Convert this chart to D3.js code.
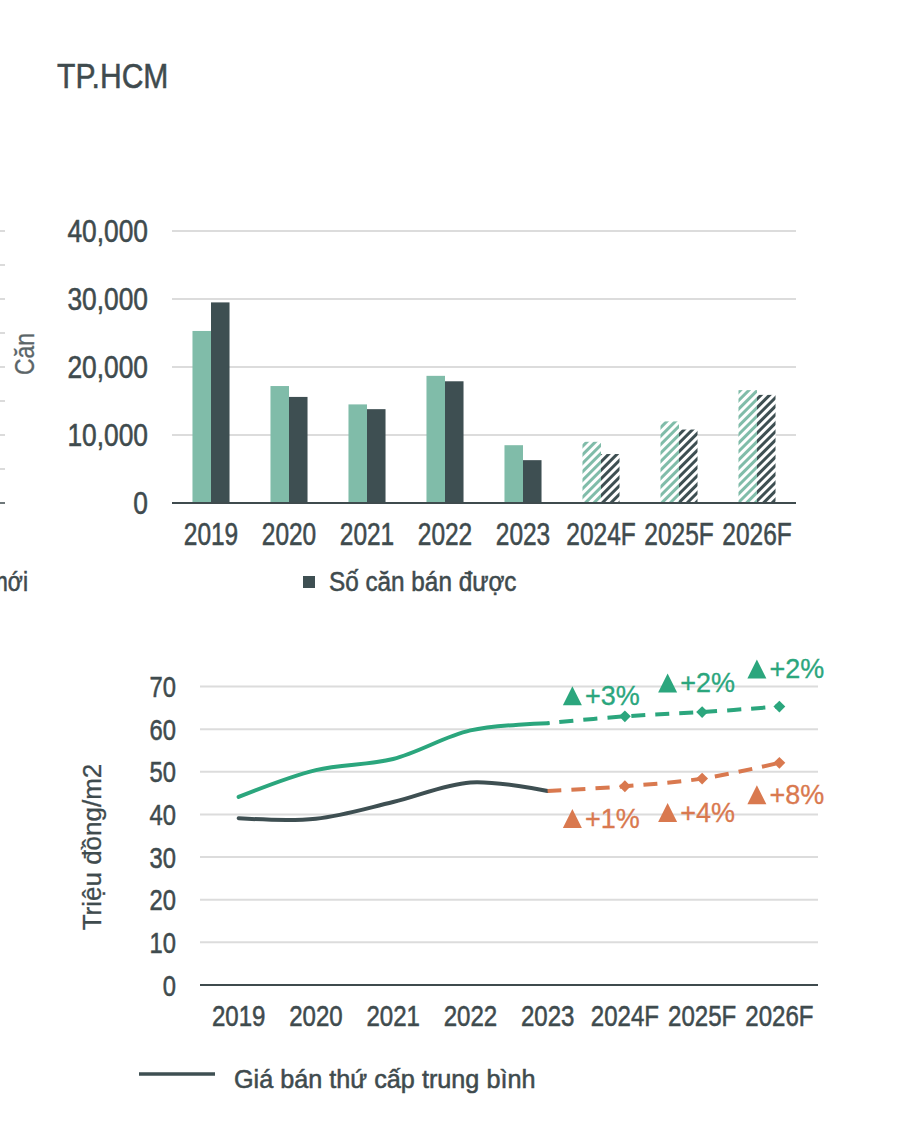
<!DOCTYPE html>
<html>
<head>
<meta charset="utf-8">
<script src="https://cdn.jsdelivr.net/npm/d3@7"></script>
<style>
  html, body { margin: 0; padding: 0; background: #ffffff; }
  svg { display: block; }
</style>
</head>
<body>
<div id="chart"></div>
<script>
// ---------------- DATA ----------------
const categories = ["2019", "2020", "2021", "2022", "2023", "2024F", "2025F", "2026F"];
const newSupply  = [25300, 17200, 14500, 18700, 8500, 9000, 12000, 16600];
const unitsSold  = [29500, 15600, 13800, 17900, 6300, 7200, 10800, 15900];
const barTicks   = [0, 10000, 20000, 30000, 40000];

const primaryPrice   = [44.1, 50.4, 53.0, 59.7, 61.4, 63.0, 64.0, 65.3];
const secondaryPrice = [39.1, 39.0, 42.9, 47.5, 45.5, 46.6, 48.4, 52.1];
const lineTicks      = [0, 10, 20, 30, 40, 50, 60, 70];

const primaryGrowth      = ["+3%", "+2%", "+2%"];
const primaryGrowthAt    = [65.6, 68.6, 71.9];
const secondaryGrowth    = ["+1%", "+4%", "+8%"];
const secondaryGrowthAt  = [36.8, 38.2, 42.4];
const forecastCategories = ["2024F", "2025F", "2026F"];

const titleText    = "TP.HCM";
const barAxisName  = "Căn";
const barLegend    = "Số căn bán được";
const cutLegend    = "mới";
const lineAxisName = "Triệu đồng/m2";
const lineLegend   = "Giá bán thứ cấp trung bình";

// ---------------- STYLE ----------------
const W = 910, H = 1132;
const FONT = "'Liberation Sans', Arial, sans-serif";
const TEXT = "#3f4b4e";
const LIGHT = "#80bca9";
const DARK = "#3e4f52";
const GREEN = "#2ba67d";
const ORANGE = "#d9794f";
const GRID = "#dcdcdc";

const svg = d3.select("#chart").append("svg")
  .attr("width", W).attr("height", H)
  .attr("viewBox", `0 0 ${W} ${H}`);
svg.append("rect").attr("width", W).attr("height", H).attr("fill", "#fff");

// condensed-looking text: Liberation Sans squeezed horizontally, slightly heavier
function ntext(sel, size, anchor, fill) {
  const f = fill || TEXT;
  return sel.attr("font-family", FONT).attr("font-size", size)
    .attr("text-anchor", anchor || "start").attr("fill", f)
    .attr("stroke", f).attr("stroke-width", 0.55);
}
const place = (x, y, sx, rot) => `translate(${x},${y})${rot ? " rotate(" + rot + ")" : ""} scale(${sx},1)`;

const defs = svg.append("defs");
function hatch(id, color) {
  const p = defs.append("pattern").attr("id", id)
    .attr("patternUnits", "userSpaceOnUse")
    .attr("width", 6).attr("height", 6)
    .attr("patternTransform", "rotate(45)");
  p.append("rect").attr("width", 6).attr("height", 6).attr("fill", "#fff");
  p.append("rect").attr("x", 0).attr("width", 3).attr("height", 6).attr("fill", color);
}
hatch("hatchLight", LIGHT);
hatch("hatchDark", DARK);

// Title
ntext(svg.append("text"), 35).attr("transform", place(57, 88, 0.86)).text(titleText);

// Cropped neighbour axis ticks at left edge
const leftTickScale = d3.scaleLinear().domain([0, 8]).range([503, 231]);
d3.range(0, 9).forEach(i => {
  svg.append("line").attr("x1", 0).attr("x2", 5)
    .attr("y1", leftTickScale(i)).attr("y2", leftTickScale(i))
    .attr("stroke", i === 0 ? TEXT : "#cfcfcf").attr("stroke-width", 1.5);
});
ntext(svg.append("text"), 27, "end").attr("transform", place(28, 591, 0.85)).text(cutLegend);

// ---------------- BAR CHART ----------------
const bx = d3.scaleBand().domain(categories).range([172, 796])
  .paddingInner(0.525).paddingOuter(0.2625);
const by = d3.scaleLinear().domain([0, 40000]).range([503, 231]);
const sub = d3.scaleBand().domain(["a", "b"]).range([0, bx.bandwidth()]);

const bg = svg.append("g");
bg.selectAll("line.grid").data(barTicks.filter(t => t > 0)).join("line")
  .attr("x1", 172).attr("x2", 796)
  .attr("y1", d => by(d)).attr("y2", d => by(d))
  .attr("stroke", GRID).attr("stroke-width", 2);

const isF = c => forecastCategories.includes(c);
bg.selectAll("rect.s1").data(categories).join("rect")
  .attr("x", c => bx(c) + sub("a"))
  .attr("width", sub.bandwidth())
  .attr("y", (c, i) => by(newSupply[i]))
  .attr("height", (c, i) => by(0) - by(newSupply[i]))
  .attr("fill", c => isF(c) ? "url(#hatchLight)" : LIGHT);
bg.selectAll("rect.s2").data(categories).join("rect")
  .attr("x", c => bx(c) + sub("b"))
  .attr("width", sub.bandwidth())
  .attr("y", (c, i) => by(unitsSold[i]))
  .attr("height", (c, i) => by(0) - by(unitsSold[i]))
  .attr("fill", c => isF(c) ? "url(#hatchDark)" : DARK);

bg.append("line").attr("x1", 172).attr("x2", 796).attr("y1", by(0)).attr("y2", by(0))
  .attr("stroke", TEXT).attr("stroke-width", 2);

const fmt = d3.format(",");
ntext(bg.selectAll("text.yt").data(barTicks).join("text"), 31, "end")
  .attr("transform", d => place(148, by(d) + 11, 0.85))
  .text(d => fmt(d));
ntext(bg.selectAll("text.xt").data(categories).join("text"), 31, "middle")
  .attr("transform", c => place(bx(c) + bx.bandwidth() / 2, 545, 0.79))
  .text(c => c);
ntext(svg.append("text"), 27, "middle", "#5b6568")
  .attr("stroke-width", 0.3)
  .attr("transform", place(34, 354, 0.85, -90))
  .text(barAxisName);

// bar legend
svg.append("rect").attr("x", 303).attr("y", 576).attr("width", 12).attr("height", 12).attr("fill", DARK);
ntext(svg.append("text"), 27).attr("transform", place(329, 591, 0.9)).text(barLegend);

// ---------------- LINE CHART ----------------
const lx = d3.scalePoint().domain(categories).range([200, 818]).padding(0.5);
const ly = d3.scaleLinear().domain([0, 70]).range([985, 686.5]);

const lg = svg.append("g");
lg.selectAll("line.grid").data(lineTicks.filter(t => t > 0)).join("line")
  .attr("x1", 200).attr("x2", 818)
  .attr("y1", d => ly(d)).attr("y2", d => ly(d))
  .attr("stroke", GRID).attr("stroke-width", 2);
lg.append("line").attr("x1", 200).attr("x2", 818).attr("y1", ly(0)).attr("y2", ly(0))
  .attr("stroke", TEXT).attr("stroke-width", 2);

ntext(lg.selectAll("text.yt").data(lineTicks).join("text"), 29, "end")
  .attr("transform", d => place(176, ly(d) + 10.5, 0.82))
  .text(d => d);
ntext(lg.selectAll("text.xt").data(categories).join("text"), 29, "middle")
  .attr("transform", c => place(lx(c), 1026, 0.83))
  .text(c => c);
svg.append("text").attr("transform", "translate(101,847) rotate(-90)")
  .attr("text-anchor", "middle")
  .attr("font-family", FONT).attr("font-size", 26).attr("fill", TEXT)
  .attr("stroke", TEXT).attr("stroke-width", 0.3)
  .text(lineAxisName);

const line = d3.line().x(d => lx(d.c)).y(d => ly(d.v)).curve(d3.curveCatmullRom.alpha(0.5));
const pts = arr => categories.map((c, i) => ({ c, v: arr[i] }));
const histIdx = categories.indexOf("2023");
const pPts = pts(primaryPrice), sPts = pts(secondaryPrice);

lg.append("path").attr("d", line(pPts.slice(0, histIdx + 1)))
  .attr("fill", "none").attr("stroke", GREEN).attr("stroke-width", 4).attr("stroke-linecap", "round");
lg.append("path").attr("d", line(pPts.slice(histIdx)))
  .attr("fill", "none").attr("stroke", GREEN).attr("stroke-width", 4)
  .attr("stroke-dasharray", "14 10").attr("stroke-dashoffset", -12);
lg.append("path").attr("d", line(sPts.slice(0, histIdx + 1)))
  .attr("fill", "none").attr("stroke", DARK).attr("stroke-width", 4).attr("stroke-linecap", "round");
lg.append("path").attr("d", line(sPts.slice(histIdx)))
  .attr("fill", "none").attr("stroke", ORANGE).attr("stroke-width", 4)
  .attr("stroke-dasharray", "14 10");

function markers(arr, color) {
  lg.selectAll(null).data(arr.slice(histIdx + 1)).join("path")
    .attr("d", d3.symbol().type(d3.symbolSquare).size(70))
    .attr("transform", d => `translate(${lx(d.c)},${ly(d.v)}) rotate(45)`)
    .attr("fill", color);
}
markers(pPts, GREEN);
markers(sPts, ORANGE);

// growth annotations
const labelNudge = [-62, -44, -32];
function growth(labels, at, color) {
  forecastCategories.forEach((c, i) => {
    const x0 = lx(c) + labelNudge[i];
    const yb = ly(at[i]);
    lg.append("path")
      .attr("d", `M${x0},${yb} L${x0 + 19},${yb} L${x0 + 9.5},${yb - 19} Z`)
      .attr("fill", color);
    lg.append("text").attr("x", x0 + 22).attr("y", yb)
      .attr("font-family", FONT).attr("font-size", 27).attr("fill", color)
      .attr("stroke", color).attr("stroke-width", 0.3)
      .text(labels[i]);
  });
}
growth(primaryGrowth, primaryGrowthAt, GREEN);
growth(secondaryGrowth, secondaryGrowthAt, ORANGE);

// line legend
svg.append("line").attr("x1", 139).attr("x2", 215).attr("y1", 1074).attr("y2", 1074)
  .attr("stroke", DARK).attr("stroke-width", 3.5);
ntext(svg.append("text"), 26).attr("transform", place(234, 1088, 0.97)).text(lineLegend);
</script>
</body>
</html>
